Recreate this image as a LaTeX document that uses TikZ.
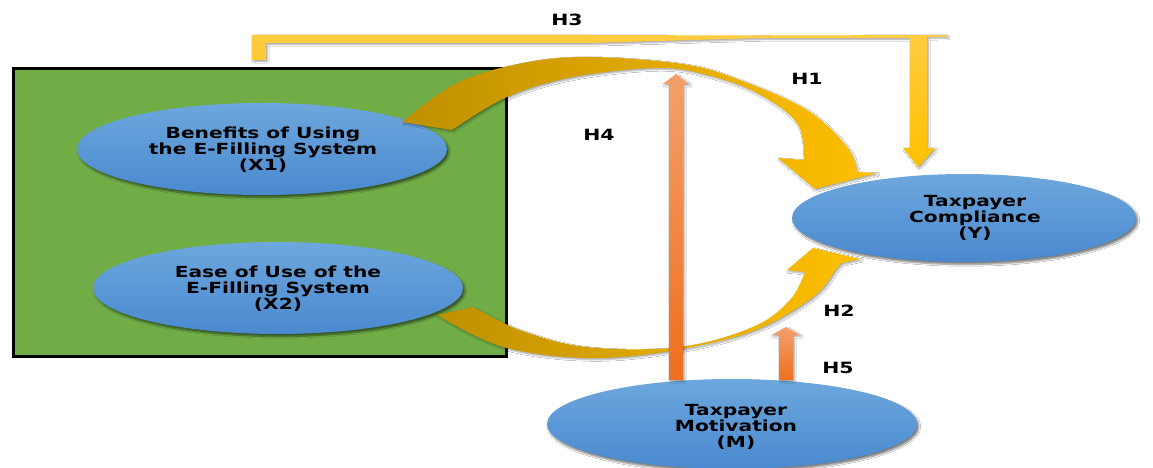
\documentclass[tikz,border=0pt]{standalone}
\usepackage{fontspec}
\newfontfamily\hfont{DejaVu Sans}[FakeStretch=1.32]
\usetikzlibrary{shapes.geometric,shadows.blur}
\definecolor{grn}{HTML}{70AD47}
\definecolor{bluetop}{HTML}{6DA7DD}
\definecolor{bluebot}{HTML}{4A89CF}
\definecolor{golddk}{HTML}{BF9000}
\definecolor{goldlt}{HTML}{D6A83A}
\definecolor{yel}{HTML}{FFC000}
\definecolor{yellt}{HTML}{FFCC40}
\definecolor{orlt}{HTML}{F4A06C}
\definecolor{ordk}{HTML}{EE6F1E}
\begin{document}
\begin{tikzpicture}[x=1pt,y=-1pt,
 ell/.style={ellipse, inner sep=0pt, top color=bluetop, bottom color=bluebot, draw=none,
   blur shadow={shadow xshift=2pt, shadow yshift=-2.5pt, shadow blur steps=6, shadow opacity=50}},
 lbl/.style={font=\hfont\bfseries\fontsize{15.3}{16}\selectfont, align=center, text=black, inner sep=0pt},
 hlab/.style={font=\hfont\bfseries\fontsize{15.5}{16}\selectfont, text=black, inner sep=0pt},
 arrshadow/.style={blur shadow={shadow xshift=1.5pt, shadow yshift=-1.5pt, shadow blur steps=4, shadow opacity=35}}
]
\useasboundingbox[fill=white] (0,0) rectangle (1153,468);

% green frame
\node[draw=black, line width=3pt, fill=grn, minimum width=493pt, minimum height=288pt,
      anchor=north west, inner sep=0pt] (box) at (12,67) {};

% ellipses
\node[ell, minimum width=370pt, minimum height=92pt] (X1) at (262,149) {};
\node[ell, minimum width=370pt, minimum height=92pt] (X2) at (278,288) {};
\node[ell, minimum width=344pt, minimum height=88pt] (Y) at (964,218) {};

% H3 connector
\shade[top color=yellt, bottom color=yel, arrshadow]
  (252,35) -- (590,35) -- (760,35.5) -- (947,35) -- (947,36.5) -- (927,37) -- (927,148)
  -- (935,148) -- (918,167) -- (903,148) -- (910,148) -- (910,38) -- (760,38)
  -- (590,43) -- (266,43) -- (266,60) -- (252,60) -- cycle;

% H1 curved arrow
\shade[left color=golddk, right color=yel, arrshadow]
  plot[smooth, tension=0.6] coordinates {(402,122) (457,83) (523,63) (590,57) (683,64) (740,80) (807,110) (847,147) (857,172)}
  -- (877,173) -- (815,189) -- (778,158) -- (804,160)
  -- plot[smooth, tension=0.6] coordinates {(804,160) (797,123) (757,93) (707,75) (657,68) (573,77) (507,97) (452,130)}
  -- cycle;

% H2 curved arrow
\shade[left color=golddk, right color=yel, arrshadow]
  plot[smooth, tension=0.6] coordinates {(437,315) (503,347) (587,358) (670,351) (753,331) (813,297) (837,268) (842,263)}
  -- (860,259) -- (813,248) -- (787,270) -- (805,272)
  -- plot[smooth, tension=0.6] coordinates {(805,272) (790,300) (753,327) (680,347) (587,347) (520,330) (473,307)}
  -- cycle;

% motivation ellipse
\node[ell, minimum width=370pt, minimum height=90pt] (M) at (732,424) {};

% orange arrows
\shade[top color=orlt, bottom color=ordk, arrshadow]
  (669,380) -- (669,84) -- (663,84) -- (676,74) -- (689,84) -- (683,84) -- (683,380) -- cycle;
\shade[top color=orlt, bottom color=ordk, arrshadow]
  (779,380) -- (779,335) -- (772,335) -- (786,327) -- (800,335) -- (793,335) -- (793,380) -- cycle;

% texts
\node[lbl] (X1t) at (263,150) {Benefits of Using\\the E-Filling System\\(X1)};
\node[lbl] (X2t) at (278,289) {Ease of Use of the\\E-Filling System\\(X2)};
\node[lbl] (Yt) at (975,218) {Taxpayer\\Compliance\\(Y)};
\node[lbl] (Mt) at (736,427) {Taxpayer\\Motivation\\(M)};

% hypothesis labels
\node[hlab] (h3) at (567,20) {H3};
\node[hlab] (h1) at (807,79) {H1};
\node[hlab] (h4) at (599,135) {H4};
\node[hlab] (h2) at (839,311) {H2};
\node[hlab] (h5) at (838,368) {H5};
\end{tikzpicture}
\end{document}
